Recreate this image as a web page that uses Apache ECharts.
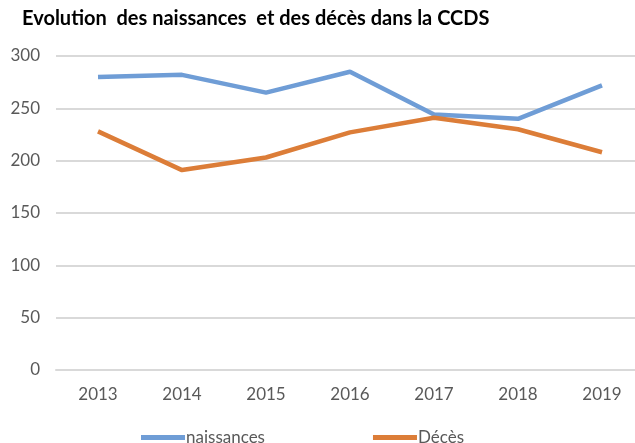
<!DOCTYPE html>
<html><head><meta charset="utf-8">
<script src="https://cdn.jsdelivr.net/npm/echarts@6/dist/echarts.min.js"></script>
<style>html,body{margin:0;padding:0;background:#fff}#c{width:635px;height:443px}</style>
</head><body><div id="c"></div>
<script>
const categories = ['2013','2014','2015','2016','2017','2018','2019'];
const naissances = [280, 282, 265, 285, 244, 240, 272];
const deces = [228, 191, 203, 227, 241, 230, 208];
const yTicks = [0, 50, 100, 150, 200, 250, 300];

const chart = echarts.init(document.getElementById('c'), null, {renderer:'canvas'});
const font = 'Lato, "Open Sans", sans-serif';
chart.setOption({
  animation:false,
  backgroundColor:'#fff',
  title:{text:'Evolution  des naissances  et des décès dans la CCDS', left:17, top:4,
    textStyle:{fontFamily:font, fontWeight:'bold', fontSize:20, color:'#000'}},
  grid:{left:56, top:56, right:-9, bottom:73, outerBoundsMode:'none', containLabel:false},
  legend:{top:424, left:136, itemWidth:44, itemHeight:5, itemGap:108, icon:'rect',
    textStyle:{fontFamily:font, fontSize:17, color:'#595959', padding:[0,0,0,-4]},
    data:['naissances','Décès']},
  xAxis:{type:'category', data:categories, boundaryGap:true,
    axisLine:{show:true, lineStyle:{color:'#d9d9d9', width:2}},
    axisTick:{show:false},
    axisLabel:{fontFamily:font, fontSize:17, color:'#595959', margin:16}},
  yAxis:{type:'value', min:yTicks[0], max:yTicks[yTicks.length-1], interval:50,
    axisLine:{show:false}, axisTick:{show:false},
    splitLine:{lineStyle:{color:'#d9d9d9', width:2}},
    axisLabel:{fontFamily:font, fontSize:17, color:'#595959', margin:16}},
  series:[
    {name:'naissances', type:'line', data:naissances, symbol:'none',
      lineStyle:{width:4.5, color:'#6f9dd6'}, itemStyle:{color:'#6f9dd6'}},
    {name:'Décès', type:'line', data:deces, symbol:'none',
      lineStyle:{width:4.5, color:'#dc7d38'}, itemStyle:{color:'#dc7d38'}}
  ]
});
</script></body></html>
